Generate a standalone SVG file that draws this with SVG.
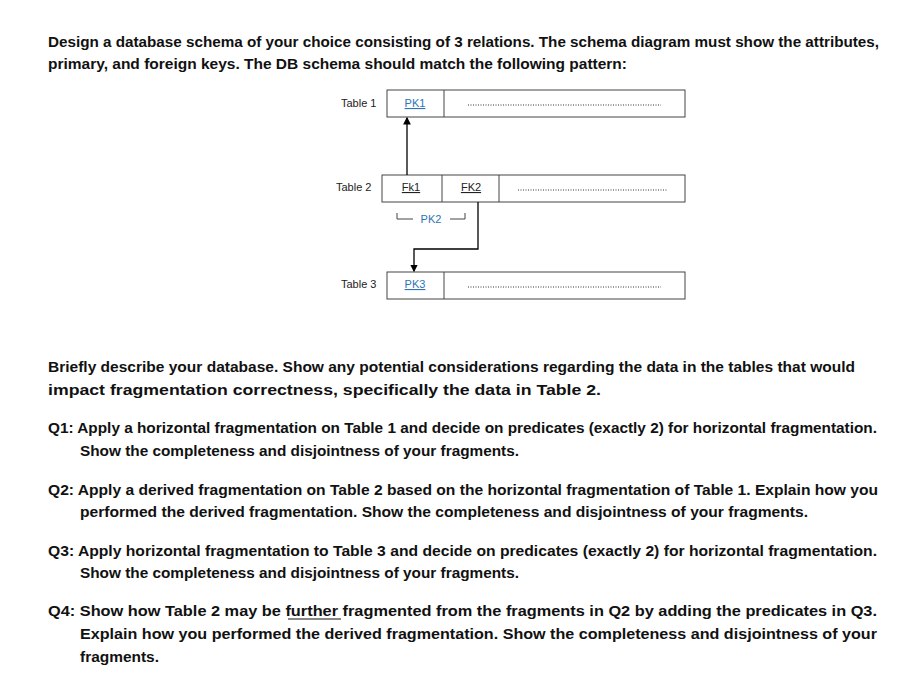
<svg xmlns="http://www.w3.org/2000/svg" width="919" height="673" viewBox="0 0 919 673">
<style>
.t{font-family:"Liberation Sans",Arial,sans-serif;font-weight:bold;font-size:15px;fill:#111}
.l{font-family:"Liberation Sans",Arial,sans-serif;font-size:11px;fill:#222}
.k{font-family:"Liberation Sans",Arial,sans-serif;font-size:11px;fill:#2E74B5;text-decoration:underline}
.b{fill:#fff;stroke:#444;stroke-width:1}
.d{stroke:#333;stroke-width:1;stroke-dasharray:1 1.5}
.c{fill:none;stroke:#000;stroke-width:1.3}
</style>
<defs><marker id="a" markerWidth="6" markerHeight="6" refX="5" refY="3" orient="auto"><path d="M0,0L6,3L0,6z" fill="#000"/></marker></defs>
<rect width="919" height="673" fill="#fff"/>
<g class="t">
<text x="48" y="47" textLength="831" lengthAdjust="spacingAndGlyphs">Design a database schema of your choice consisting of 3 relations. The schema diagram must show the attributes,</text>
<text x="48" y="69" textLength="579" lengthAdjust="spacingAndGlyphs">primary, and foreign keys. The DB schema should match the following pattern:</text>
<text x="48" y="372" textLength="807" lengthAdjust="spacingAndGlyphs">Briefly describe your database. Show any potential considerations regarding the data in the tables that would</text>
<text x="48" y="395" textLength="553" lengthAdjust="spacingAndGlyphs">impact fragmentation correctness, specifically the data in Table 2.</text>
<text x="48" y="433" textLength="829" lengthAdjust="spacingAndGlyphs">Q1: Apply a horizontal fragmentation on Table 1 and decide on predicates (exactly 2) for horizontal fragmentation.</text>
<text x="80" y="456" textLength="439" lengthAdjust="spacingAndGlyphs">Show the completeness and disjointness of your fragments.</text>
<text x="48" y="495" textLength="830" lengthAdjust="spacingAndGlyphs">Q2: Apply a derived fragmentation on Table 2 based on the horizontal fragmentation of Table 1. Explain how you</text>
<text x="80" y="517" textLength="728" lengthAdjust="spacingAndGlyphs">performed the derived fragmentation.  Show the completeness and disjointness of your fragments.</text>
<text x="48" y="556" textLength="829" lengthAdjust="spacingAndGlyphs">Q3: Apply horizontal fragmentation to Table 3 and decide on predicates (exactly 2) for horizontal fragmentation.</text>
<text x="80" y="578" textLength="439" lengthAdjust="spacingAndGlyphs">Show the completeness and disjointness of your fragments.</text>
<text x="48" y="616" textLength="829" lengthAdjust="spacingAndGlyphs">Q4: Show how Table 2 may be further fragmented from the fragments in Q2 by adding the predicates in Q3.</text>
<text x="80" y="639" textLength="797" lengthAdjust="spacingAndGlyphs">Explain how you performed the derived fragmentation. Show the completeness and disjointness of your</text>
<text x="80" y="662" textLength="79" lengthAdjust="spacingAndGlyphs">fragments.</text>
</g>
<line x1="288" y1="619" x2="341" y2="619" stroke="#111" stroke-width="1.2"/>
<g id="table1">
<text class="l" x="341" y="107">Table 1</text>
<rect class="b" x="387" y="90" width="298" height="27"/>
<line x1="444" y1="90" x2="444" y2="117" stroke="#444"/>
<text class="k" x="415" y="107" text-anchor="middle">PK1</text>
<line class="d" x1="468" y1="105" x2="661" y2="105"/>
</g>
<g id="table2">
<text class="l" x="336" y="191">Table 2</text>
<rect class="b" x="382" y="175" width="303" height="27"/>
<line x1="442" y1="175" x2="442" y2="202" stroke="#444"/>
<line x1="499" y1="175" x2="499" y2="202" stroke="#444"/>
<text class="l" x="411" y="191" text-anchor="middle" text-decoration="underline">Fk1</text>
<text class="l" x="471" y="191" text-anchor="middle" text-decoration="underline">FK2</text>
<line class="d" x1="518" y1="190" x2="667" y2="190"/>
<path d="M397,213V219H413M450,219H465V213" fill="none" stroke="#444"/>
<text x="431" y="223" text-anchor="middle" style="font-family:'Liberation Sans',Arial,sans-serif;font-size:11px;fill:#2E74B5">PK2</text>
</g>
<g id="table3">
<text class="l" x="341" y="288">Table 3</text>
<rect class="b" x="387" y="272" width="298" height="27"/>
<line x1="444" y1="272" x2="444" y2="299" stroke="#444"/>
<text class="k" x="415" y="288" text-anchor="middle">PK3</text>
<line class="d" x1="468" y1="287" x2="661" y2="287"/>
</g>
<g id="connectors">
<path class="c" d="M407,175V118" marker-end="url(#a)"/>
<path class="c" d="M478,202V249H414V271" marker-end="url(#a)"/>
</g>
</svg>
